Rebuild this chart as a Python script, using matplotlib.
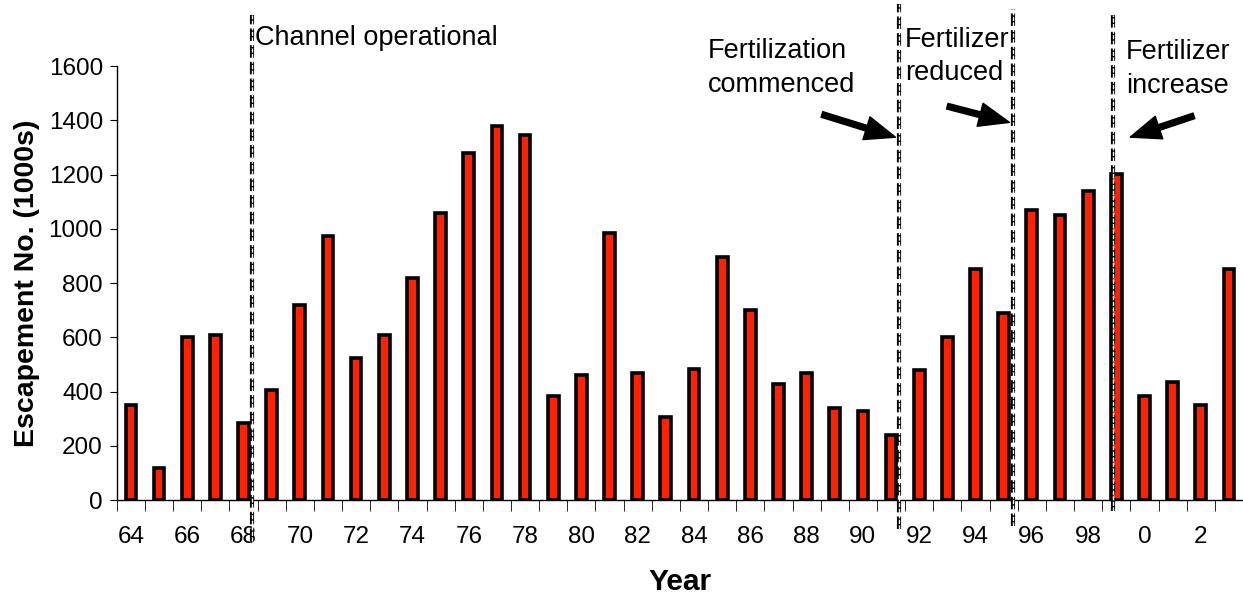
import matplotlib
matplotlib.use("Agg")
import matplotlib.pyplot as plt
import numpy as np

plt.rcParams['font.family'] = ['Liberation Sans', 'DejaVu Sans']

years = list(range(1964, 2004))
escapement = [350, 120, 600, 610, 285, 405, 720, 975, 525, 610,
              820, 1060, 1280, 1380, 1345, 383, 460, 985, 470, 305,
              483, 898, 700, 428, 470, 340, 328, 240, 480, 600,
              853, 688, 1070, 1050, 1138, 1203, 383, 437, 350, 853]
tick_labels = [str(y % 100) for y in years]

# event markers: (position in category units, top, bottom)
event_pos = [4.3, 27.28, 31.33, 34.88]
event_top = [1790, 1830, 1810, 1790]
event_bottom = [-150, -105, -95, -40]

fig = plt.figure(figsize=(12.43, 5.96), dpi=100)
ax = fig.add_axes([0.094, 0.161, 0.906, 0.728])

x = np.arange(len(years))
ax.bar(x, escapement, width=0.38, color='#FF2200', edgecolor='black',
       linewidth=2.6, zorder=2)

ax.set_xlim(-0.5, len(years) - 0.5)
ax.set_ylim(0, 1600)
ax.set_yticks(range(0, 1601, 200))
ax.tick_params(axis='y', labelsize=17.5, length=5, pad=5, direction='out')

ax.set_xticks(x[::2])
ax.set_xticklabels(tick_labels[::2])
ax.set_xticks(np.arange(-0.5, len(years), 1), minor=True)
ax.tick_params(axis='x', which='major', length=0, labelsize=17.5, pad=19)
ax.tick_params(axis='x', which='minor', length=8, direction='out')

for s in ['top', 'right']:
    ax.spines[s].set_visible(False)
for s in ['left', 'bottom']:
    ax.spines[s].set_linewidth(1.0)

ax.set_ylabel('Escapement No. (1000s)', fontsize=20.5, fontweight='bold', labelpad=6)
ax.set_xlabel('Year', fontsize=21.5, fontweight='bold', labelpad=14)

for p, t, b in zip(event_pos, event_top, event_bottom):
    ax.plot([p, p], [b, t], color='black', lw=3.0, ls=(0, (3, 1)),
            clip_on=False, zorder=4)
    ax.plot([p, p], [b, t], color='white', lw=1.0, ls=(0, (3, 1)),
            clip_on=False, zorder=5)

ax.text(4.4, 1703, 'Channel operational', fontsize=19.5, va='center', ha='left')
ax.text(20.5, 1592, 'Fertilization\ncommenced', fontsize=19.5, va='center',
        ha='left', linespacing=1.4)
ax.text(27.5, 1635, 'Fertilizer\nreduced', fontsize=19.5, va='center',
        ha='left', linespacing=1.35)
ax.text(35.35, 1588, 'Fertilizer\nincrease', fontsize=19.5, va='center',
        ha='left', linespacing=1.4)

arrow_kw = dict(arrowstyle='simple,head_width=0.9,head_length=1.15,tail_width=0.22',
                fc='black', ec='black', lw=1, mutation_scale=19)
ax.annotate('', xy=(27.25, 1335), xytext=(24.45, 1425),
            arrowprops=arrow_kw, annotation_clip=False)
ax.annotate('', xy=(31.3, 1390), xytext=(28.9, 1455),
            arrowprops=arrow_kw, annotation_clip=False)
ax.annotate('', xy=(35.4, 1335), xytext=(37.85, 1420),
            arrowprops=arrow_kw, annotation_clip=False)

fig.savefig('out.png', dpi=100)
